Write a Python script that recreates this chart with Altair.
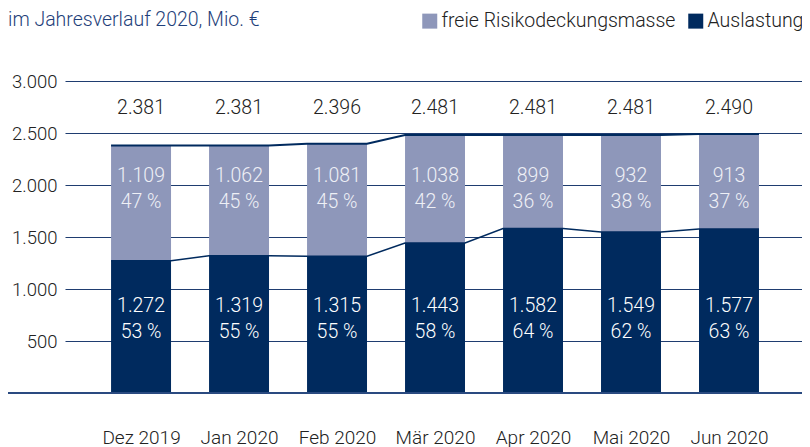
import json
import altair as alt
import pandas as pd

# ---- data ----
months = ["Dez 2019", "Jan 2020", "Feb 2020", "Mär 2020", "Apr 2020", "Mai 2020", "Jun 2020"]
auslastung = [1272, 1319, 1315, 1443, 1582, 1549, 1577]
frei = [1109, 1062, 1081, 1038, 899, 932, 913]
gesamt = [2381, 2381, 2396, 2481, 2481, 2481, 2490]
series_names = ["freie Risikodeckungsmasse", "Auslastung"]
y_ticks = [500, 1000, 1500, 2000, 2500, 3000]
title_text = "im Jahresverlauf 2020, Mio. €"

# ---- style ----
FONT = "Roboto"
FW = 300
LIGHT = "#8e97ba"
DARK = "#002a5e"
GRID = "#1f3d70"
TXT = "#222222"
TITLE_COL = "#1f3f7a"
HW = 0.306  # half bar width in index units
W, H = 737, 312

wide = pd.DataFrame({"idx": list(range(len(months))), "month": months,
                     "aus": auslastung, "frei": frei, "total": gesamt})

rows = []
for i in range(len(months)):
    rows.append({"idx": i, "series": series_names[1], "lo": 0, "hi": auslastung[i]})
    rows.append({"idx": i, "series": series_names[0], "lo": auslastung[i], "hi": gesamt[i]})
bars_df = pd.DataFrame(rows)

xs = alt.Scale(domain=[-0.776, 6.745], nice=False, zero=False)
ys = alt.Scale(domain=[0, 3000], nice=False)

label_expr = json.dumps(months) + "[datum.value]"

x_axis = alt.Axis(values=list(range(len(months))), labelExpr=label_expr, grid=False,
                  domain=False, ticks=False, labelPadding=35, title=None,
                  labelFontSize=19, labelFont=FONT, labelFontWeight=FW, labelColor=TXT)
y_axis = alt.Axis(values=y_ticks, grid=True, gridColor=GRID, gridWidth=1, domain=False,
                  ticks=False, labelPadding=8, title=None, labelFontSize=18.5, labelFont=FONT,
                  labelFontWeight=FW, labelColor=TXT,
                  labelExpr="replace(format(datum.value, ','), ',', '.')")

bars = alt.Chart(bars_df).transform_calculate(
    x1=f"datum.idx - {HW}", x2=f"datum.idx + {HW}"
).mark_bar().encode(
    x=alt.X("x1:Q", scale=xs, axis=x_axis),
    x2="x2:Q",
    y=alt.Y("lo:Q", scale=ys, axis=y_axis),
    y2="hi:Q",
    color=alt.Color("series:N", scale=alt.Scale(domain=series_names, range=[LIGHT, DARK]),
                    legend=alt.Legend(orient="none", legendX=355, legendY=-70,
                                      direction="horizontal", title=None, symbolType="square",
                                      symbolSize=225, symbolStrokeWidth=0, symbolOpacity=1,
                                      labelFontSize=19.5, labelFont=FONT, labelFontWeight=FW,
                                      labelColor=TXT, columnPadding=10, labelOffset=2,
                                      labelLimit=0)),
)

base = alt.Chart(wide)

zero = base.transform_filter("datum.idx == 0").mark_rule(color="#2a4a80", strokeWidth=2).encode(
    y=alt.Y("zero:Q", scale=ys), x=alt.value(-57), x2=alt.value(W)
).transform_calculate(zero="0")

lines_base = base.transform_calculate(
    left=f"datum.idx - {HW}", right=f"datum.idx + {HW}"
).transform_fold(["left", "right"], as_=["side", "pos"])

line_total = lines_base.mark_line(color=DARK, strokeWidth=2).encode(
    x=alt.X("pos:Q", scale=xs), y=alt.Y("total:Q", scale=ys), order="pos:Q")
line_aus = lines_base.mark_line(color=DARK, strokeWidth=1.5).encode(
    x=alt.X("pos:Q", scale=xs), y=alt.Y("aus:Q", scale=ys), order="pos:Q")

fmt = base.transform_calculate(
    t_total="replace(format(datum.total, ','), ',', '.')",
    t_frei="replace(format(datum.frei, ','), ',', '.')",
    t_aus="replace(format(datum.aus, ','), ',', '.')",
    p_frei="round(datum.frei / datum.total * 100) + ' %'",
    p_aus="round(datum.aus / datum.total * 100) + ' %'",
)

def txt(field, ypix, color):
    return fmt.mark_text(font=FONT, fontWeight=FW, fontSize=19.5, baseline="middle",
                         align="center", color=color).encode(
        x=alt.X("idx:Q", scale=xs), y=alt.value(ypix), text=f"{field}:N")

texts = [
    txt("t_total", 27, TXT),
    txt("t_frei", 95, "#eef0f6"),
    txt("p_frei", 120.5, "#eef0f6"),
    txt("t_aus", 225, "#ffffff"),
    txt("p_aus", 251, "#ffffff"),
]

title = alt.Chart(pd.DataFrame({"t": [title_text]})).mark_text(
    font=FONT, fontWeight=FW, fontSize=19.5, align="left", baseline="middle", color=TITLE_COL
).encode(x=alt.value(-57), y=alt.value(-61), text="t:N")

chart = alt.layer(bars, zero, line_total, line_aus, *texts, title).properties(
    width=W, height=H,
    autosize=alt.AutoSizeParams(type="none"),
    padding={"left": 57, "top": 73, "right": 0, "bottom": 55},
).configure_view(stroke=None)

chart.save("out.html", embed_options={"renderer": "svg", "actions": False})
